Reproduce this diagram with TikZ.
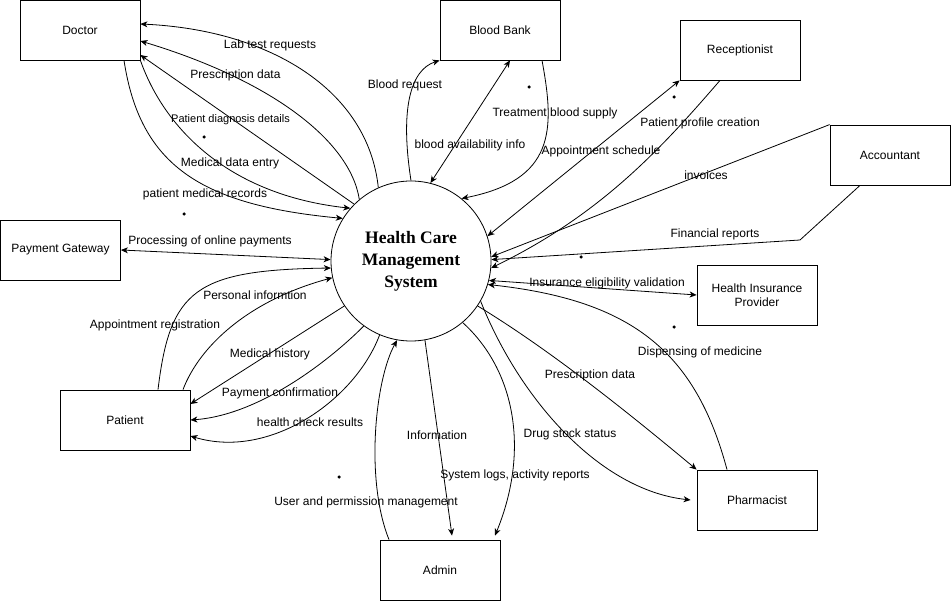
\documentclass[tikz,border=0pt]{standalone}
\usepackage{fontspec}
\setmainfont{Liberation Sans}
\newfontfamily\titlefont{Liberation Serif}
\usetikzlibrary{arrows.meta}
\begin{document}
\begin{tikzpicture}[x=1pt,y=-1pt,
  every node/.style={font=\fontsize{12}{14}\selectfont},
  ent/.style={draw, rectangle, minimum width=120pt, minimum height=60pt, inner sep=2pt, line width=0.8pt, align=center},
  proc/.style={draw, circle, minimum size=160pt, inner sep=0pt, line width=0.8pt, align=center},
  flow/.style={line width=0.8pt, -{Stealth[length=7pt,width=6pt,inset=2pt]}},
  biflow/.style={line width=0.8pt, {Stealth[length=7pt,width=6pt,inset=2pt]}-{Stealth[length=7pt,width=6pt,inset=2pt]}},
  lbl/.style={inner sep=0pt},
  smalldot/.style={circle, fill, inner sep=0pt, minimum size=3.5pt},
]
\useasboundingbox (0,0) rectangle (952,601);

% process
\node[proc, font=\titlefont\bfseries\fontsize{17.5}{22}\selectfont] (sys) at (411,261) {Health Care\\Management\\System};

% entities
\node[ent] (doc) at (80,30) {Doctor};
\node[ent] (bb) at (500,30) {Blood Bank};
\node[ent] (rec) at (740,50) {Receptionist};
\node[ent] (acc) at (890,155) {Accountant};
\node[ent] (hip) at (757,295) {Health Insurance\\Provider};
\node[ent] (pha) at (757,500) {Pharmacist};
\node[ent] (adm) at (440,570) {Admin};
\node[ent, minimum width=130pt] (pat) at (125,420) {Patient};
\node[ent] (pg) at (60.5,250) {Payment Gateway};

% doctor flows
\draw[flow] (sys.114) .. controls (368,90) and (270,30) .. ([yshift=6pt]doc.east);
\draw[flow] (sys.130) .. controls (350,140) and (270,80) .. ([yshift=-11pt]doc.east);
\draw[flow] (sys.135) -- ([yshift=-25pt]doc.east);
\draw[flow] (doc.south east) .. controls (165,130) and (230,195) .. (sys.139);
\draw[flow] ([xshift=44pt]doc.south) .. controls (140,165) and (200,205) .. (sys.148);

% blood bank flows
\draw[flow] (sys.90) .. controls (400,110) and (410,70) .. (bb.south west);
\draw[biflow] (sys.76) -- ([xshift=10pt]bb.south);
\draw[flow] ([xshift=42pt]bb.south) .. controls (555,130) and (555,180) .. (sys.51);

% receptionist flows
\draw[biflow] (sys.18) -- (rec.south west);
\draw[flow] ([xshift=-20pt]rec.south) .. controls (660,150) and (600,215) .. (sys.-5);

% accountant flows
\coordinate (fbend) at (800,240);
\draw[flow] (acc.north west) -- (sys.3);
\draw[flow] ([xshift=-30pt]acc.south) -- (fbend) -- (sys.1);

% insurance
\draw[biflow] (sys.-14) -- (hip.west);

% pharmacist flows
\draw[flow] ([xshift=-30pt]pha.north) .. controls (695,350) and (630,300) .. (sys.-17);
\draw[flow] (sys.-34) .. controls (550,350) and (625,410) .. (pha.north west);
\draw[flow] (sys.-30) .. controls (520,400) and (600,490) .. ([xshift=-6pt]pha.west);

% admin flows
\draw[flow] (sys.-50) .. controls (515,370) and (530,450) .. ([xshift=55pt,yshift=4pt]adm.north);
\draw[flow] (sys.-80) -- ([xshift=12pt,yshift=4pt]adm.north);
\draw[flow] ([xshift=-51pt]adm.north) .. controls (365,480) and (375,380) .. (sys.-100);

% patient flows
\draw[flow] (sys.-113) .. controls (355,400) and (270,460) .. ([yshift=-16pt]pat.east);
\draw[flow] (sys.-126) .. controls (330,360) and (260,415) .. (pat.east);
\draw[flow] (sys.-146) -- ([yshift=16pt]pat.east);
\draw[flow] ([xshift=58pt]pat.north) .. controls (200,345) and (250,300) .. (sys.-168);
\draw[flow] ([xshift=33pt]pat.north) .. controls (170,290) and (195,270) .. (sys.-175);

% payment gateway
\draw[biflow] (pg.east) -- (sys.179);

% labels
\node[lbl] (l1) at (270,45) {Lab test requests};
\node[lbl] (l2) at (235.5,75) {Prescription data};
\node[lbl, font=\fontsize{11}{13}\selectfont] (l3) at (230.5,120) {Patient diagnosis details};
\node[lbl] (l4) at (230,163) {Medical data entry};
\node[lbl] (l5) at (205,194) {patient medical records};
\node[lbl] (l6) at (405,85) {Blood request};
\node[lbl] (l7) at (470,145) {blood availability info};
\node[lbl] (l8) at (555,113) {Treatment blood supply};
\node[lbl] (l9) at (601,151) {Appointment schedule};
\node[lbl] (l10) at (700,123) {Patient profile creation};
\node[lbl] (l11) at (706,175) {invoices};
\node[lbl] (l12) at (715,234) {Financial reports};
\node[lbl] (l13) at (607,283) {Insurance eligibility validation};
\node[lbl] (l14) at (700,352) {Dispensing of medicine};
\node[lbl] (l15) at (590,375) {Prescription data};
\node[lbl] (l16) at (570,434) {Drug stock status};
\node[lbl] (l17) at (515,475) {System logs, activity reports};
\node[lbl] (l18) at (437,435) {Information};
\node[lbl] (l19) at (366,502) {User and permission management};
\node[lbl] (l20) at (310,422) {health check results};
\node[lbl] (l21) at (280,393) {Payment confirmation};
\node[lbl] (l22) at (270,354) {Medical history};
\node[lbl] (l23) at (155,325) {Appointment registration};
\node[lbl] (l24) at (255,295) {Personal informtion};
\node[lbl] (l25) at (210,241) {Processing of online payments};

% dots
\node[smalldot] (d1) at (204,137) {};
\node[smalldot] (d2) at (184,214) {};
\node[smalldot] (d3) at (529,87) {};
\node[smalldot] (d4) at (674,97) {};
\node[smalldot] (d5) at (581,257) {};
\node[smalldot] (d6) at (674,327) {};
\node[smalldot] (d7) at (339,477) {};
\end{tikzpicture}
\end{document}
